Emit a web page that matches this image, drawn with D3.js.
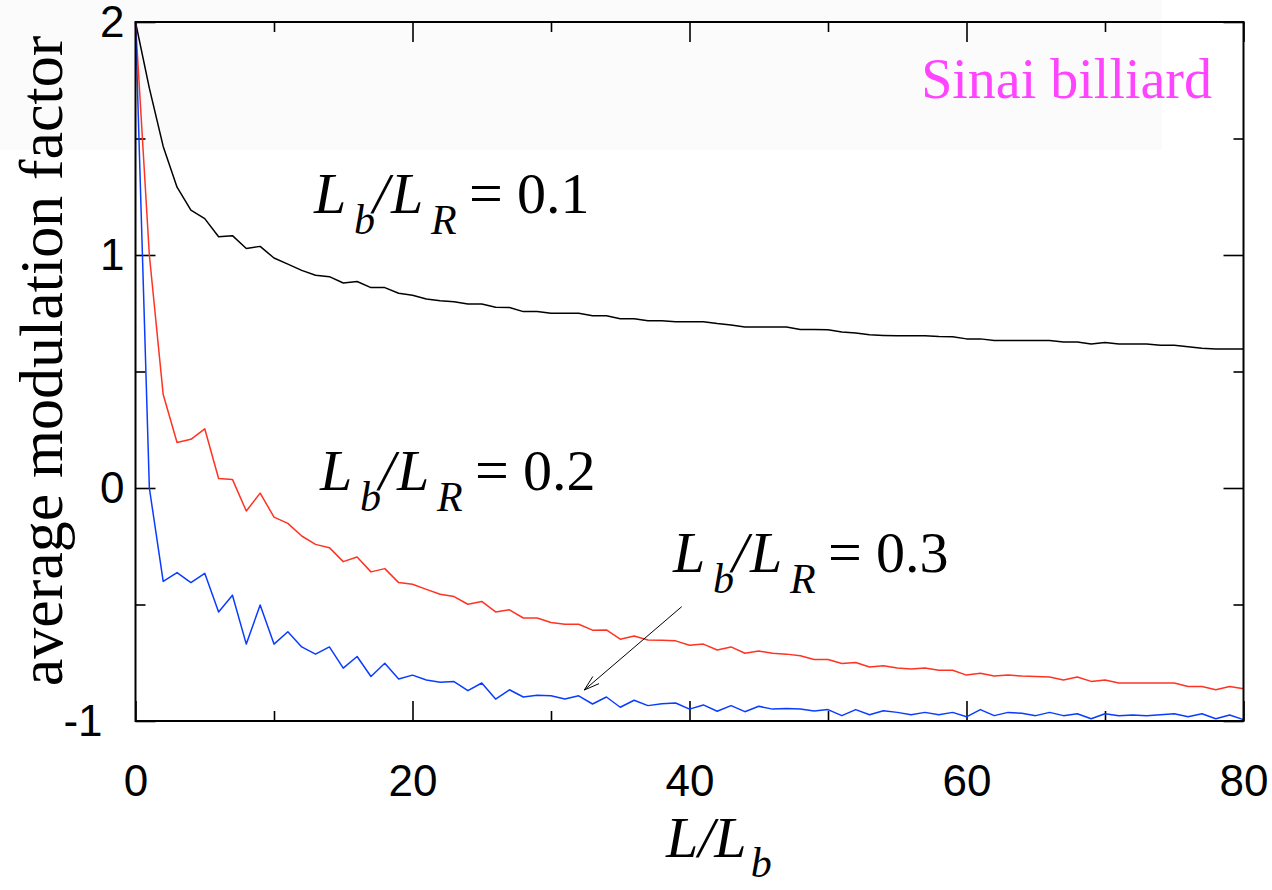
<!DOCTYPE html>
<html><head><meta charset="utf-8">
<script src="https://cdn.jsdelivr.net/npm/d3@7"></script>
<style>body{margin:0;background:#fff}svg{display:block}</style>
</head><body>
<svg id="c" width="1272" height="890"></svg>
<script>
const xs = d3.range(0, 81);
const black = [2.0,1.716,1.466,1.291,1.193,1.156,1.078,1.083,1.028,1.037,0.987,0.961,0.934,0.913,0.907,0.880,0.886,0.860,0.860,0.836,0.827,0.811,0.804,0.799,0.790,0.790,0.776,0.775,0.757,0.757,0.750,0.750,0.750,0.739,0.739,0.726,0.726,0.718,0.718,0.714,0.714,0.714,0.706,0.700,0.691,0.691,0.691,0.691,0.680,0.680,0.679,0.670,0.665,0.658,0.655,0.653,0.653,0.653,0.650,0.649,0.640,0.640,0.633,0.633,0.633,0.633,0.633,0.627,0.627,0.618,0.624,0.618,0.618,0.618,0.613,0.613,0.606,0.600,0.597,0.597,0.597];
const red = [2.0,1.0,0.401,0.195,0.209,0.254,0.041,0.037,-0.099,-0.022,-0.125,-0.152,-0.206,-0.242,-0.256,-0.316,-0.296,-0.360,-0.346,-0.406,-0.413,-0.435,-0.456,-0.466,-0.499,-0.487,-0.532,-0.523,-0.558,-0.558,-0.577,-0.585,-0.585,-0.610,-0.609,-0.649,-0.635,-0.652,-0.653,-0.656,-0.675,-0.670,-0.695,-0.682,-0.709,-0.700,-0.709,-0.713,-0.720,-0.736,-0.736,-0.753,-0.749,-0.768,-0.763,-0.773,-0.777,-0.773,-0.782,-0.782,-0.803,-0.795,-0.807,-0.803,-0.807,-0.809,-0.811,-0.824,-0.811,-0.830,-0.824,-0.837,-0.837,-0.837,-0.837,-0.837,-0.852,-0.852,-0.866,-0.852,-0.862];
const blue = [2.0,0.0,-0.401,-0.363,-0.406,-0.366,-0.532,-0.460,-0.670,-0.502,-0.670,-0.617,-0.682,-0.713,-0.682,-0.773,-0.723,-0.809,-0.752,-0.820,-0.803,-0.824,-0.834,-0.831,-0.870,-0.837,-0.906,-0.866,-0.897,-0.889,-0.892,-0.906,-0.892,-0.927,-0.897,-0.941,-0.911,-0.934,-0.926,-0.923,-0.949,-0.931,-0.958,-0.934,-0.960,-0.937,-0.949,-0.946,-0.949,-0.957,-0.951,-0.977,-0.951,-0.973,-0.956,-0.963,-0.973,-0.963,-0.973,-0.963,-0.982,-0.951,-0.977,-0.963,-0.967,-0.977,-0.963,-0.977,-0.969,-0.990,-0.969,-0.977,-0.974,-0.977,-0.973,-0.969,-0.982,-0.969,-0.990,-0.974,-0.994];
const xMajor = [0,20,40,60,80];
const xMinor = [10,30,50,70];
const yMajor = [-1,0,1,2];
const yMinor = [-0.5,0.5,1.5];
const seriesNames = ["0.1","0.2","0.3"];
const seriesColors = ["#000000","#ff3322","#0a3cff"];

const svg = d3.select("#c");
const L = 135.5, R = 1243.5, T = 22, B = 721;
const x = d3.scaleLinear().domain([0,80]).range([L,R]);
const y = d3.scaleLinear().domain([-1,2]).range([B,T]);

// faint header band
svg.append("rect").attr("x",0).attr("y",0).attr("width",1162).attr("height",150).attr("fill","#fbfbfb");

const serif = "'Liberation Serif','Times New Roman',Times,serif";
const sans = "'Liberation Sans',Helvetica,Arial,sans-serif";

function styleAxis(g){ g.select(".domain").remove(); g.selectAll("line").attr("stroke","#000").attr("stroke-width",1.6); g.selectAll("text").attr("font-family",sans).attr("font-size",44).attr("fill","#000"); }

svg.append("g").attr("transform",`translate(0,${B})`).call(d3.axisBottom(x).tickValues(xMajor).tickSize(-20).tickPadding(44).tickFormat(d=>String(d))).call(styleAxis);
svg.append("g").attr("transform",`translate(0,${B})`).call(d3.axisBottom(x).tickValues(xMinor).tickSize(-10).tickFormat("")).call(styleAxis);
svg.append("g").attr("transform",`translate(0,${T})`).call(d3.axisTop(x).tickValues(xMajor).tickSize(-20).tickFormat("")).call(styleAxis);
svg.append("g").attr("transform",`translate(0,${T})`).call(d3.axisTop(x).tickValues(xMinor).tickSize(-10).tickFormat("")).call(styleAxis);
const yl = svg.append("g").attr("transform",`translate(${L},0)`).call(d3.axisLeft(y).tickValues(yMajor).tickSize(-20).tickPadding(11).tickFormat(d=>String(d))).call(styleAxis);
yl.selectAll("text").filter(d=>d<0).attr("dx",-22);
svg.append("g").attr("transform",`translate(${L},0)`).call(d3.axisLeft(y).tickValues(yMinor).tickSize(-10).tickFormat("")).call(styleAxis);
svg.append("g").attr("transform",`translate(${R},0)`).call(d3.axisRight(y).tickValues(yMajor).tickSize(-20).tickFormat("")).call(styleAxis);
svg.append("g").attr("transform",`translate(${R},0)`).call(d3.axisRight(y).tickValues(yMinor).tickSize(-10).tickFormat("")).call(styleAxis);

// lines
const line = d3.line().x((d,i)=>x(xs[i])).y(d=>y(d));
[black, red, blue].forEach((s,i)=>{
  svg.append("path").datum(s).attr("d",line).attr("fill","none").attr("stroke",seriesColors[i]).attr("stroke-width",1.5).attr("stroke-linejoin","round");
});

// frame
svg.append("rect").attr("x",L).attr("y",T).attr("width",R-L).attr("height",B-T).attr("fill","none").attr("stroke","#000").attr("stroke-width",2);

// annotations
function ratioLabel(x0, y0, val){
  const g = svg.append("g").attr("font-family",serif).attr("fill","#000");
  g.append("text").attr("x",x0-4).attr("y",y0).attr("font-size",58).attr("font-style","italic").text("L");
  g.append("text").attr("x",x0+36).attr("y",y0+21).attr("font-size",42).attr("font-style","italic").text("b");
  g.append("text").attr("x",x0+55).attr("y",y0).attr("font-size",58).attr("font-style","italic").text("/");
  g.append("text").attr("x",x0+73).attr("y",y0).attr("font-size",58).attr("font-style","italic").text("L");
  g.append("text").attr("x",x0+113).attr("y",y0+21).attr("font-size",42).attr("font-style","italic").text("R");
  g.append("text").attr("x",x0+151).attr("y",y0).attr("font-size",60).text("=");
  g.append("text").attr("x",x0+199).attr("y",y0).attr("font-size",58).text(val);
}
ratioLabel(318, 213, seriesNames[0]);
ratioLabel(324, 490, seriesNames[1]);
ratioLabel(677, 572, seriesNames[2]);

// arrow
const ax0 = 681.7, ay0 = 606.7, ax1 = 584.3, ay1 = 690;
svg.append("line").attr("x1",ax0).attr("y1",ay0).attr("x2",ax1).attr("y2",ay1).attr("stroke","#000").attr("stroke-width",1);
const ang = Math.atan2(ay0-ay1, ax0-ax1);
[-0.3,0.3].forEach(da=>{
  svg.append("line").attr("x1",ax1).attr("y1",ay1)
    .attr("x2",ax1+16*Math.cos(ang+da)).attr("y2",ay1+16*Math.sin(ang+da))
    .attr("stroke","#000").attr("stroke-width",1);
});

// title text
svg.append("text").attr("x",1212).attr("y",98).attr("text-anchor","end")
  .attr("font-family",serif).attr("font-size",56).attr("fill","#ff44ff").text("Sinai billiard");

// axis titles
svg.append("text").attr("transform","translate(62,361) rotate(-90)").attr("text-anchor","middle").attr("font-family",serif).attr("font-size",62).attr("fill","#000").text("average modulation factor");
const xt = svg.append("text").attr("font-family",serif).attr("font-style","italic").attr("fill","#000");
xt.append("tspan").attr("x",666).attr("y",857).attr("font-size",58).text("L/L");
xt.append("tspan").attr("dx",4).attr("dy",20).attr("font-size",42).text("b");
</script>
</body></html>
